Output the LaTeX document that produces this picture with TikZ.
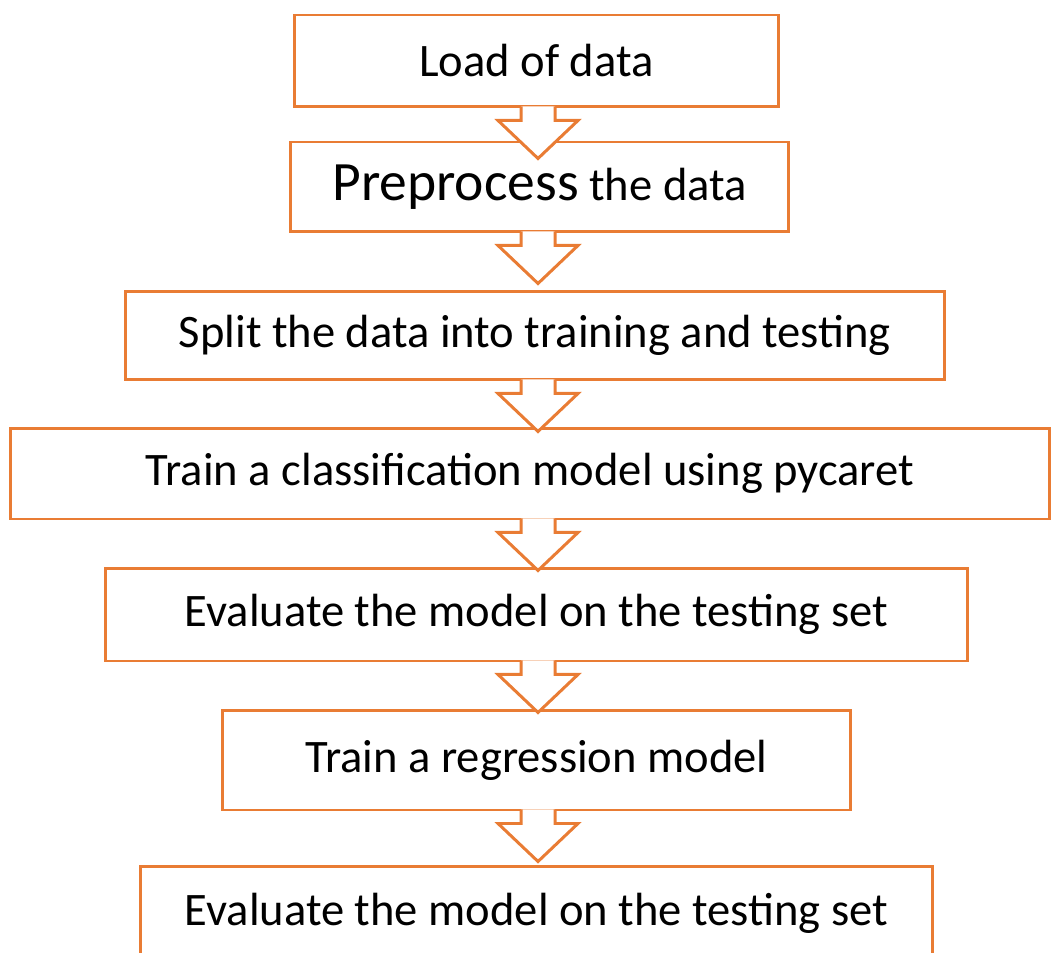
\documentclass[tikz,border=0pt]{standalone}
\usepackage{fontspec}
\setmainfont{Carlito}
\definecolor{steporange}{RGB}{233,124,52}

% outlined block arrow hanging below a box
\newcommand{\blockarrow}[1]{%
  \draw[flowarrow] (axis |- #1.south) ++(-17,-2) -- ++(0,14) -- ++(-23,0)
    -- ++(40,38) -- ++(40,-38) -- ++(-23,0) -- ++(0,-14);
}

\begin{document}
\begin{tikzpicture}[x=0.02cm, y=-0.02cm,
    stepbox/.style={draw=steporange, line width=1.7pt, inner sep=0pt,
      font=\fontsize{26.5}{30}\selectfont},
    flowarrow/.style={draw=steporange, line width=1.7pt, fill=white, line join=miter}]
  \useasboundingbox (0,0) rectangle (1053,952);
  \coordinate (axis) at (538,0);

  \node[stepbox, minimum width=9.70cm, minimum height=1.84cm] (load) at (536.5,61) {Load of data};
  \node[stepbox, minimum width=9.98cm, minimum height=1.80cm] (prep) at (539.5,187)
    {{\fontsize{31.6}{36}\selectfont Preprocess} the data};
  \node[stepbox, minimum width=16.40cm, minimum height=1.78cm] (split) at (535,335.5)
    {Split the data into training and testing};
  \node[stepbox, minimum width=20.80cm, minimum height=1.82cm] (classif) at (530,473.5)
    {Train a classification model using pycaret};
  \node[stepbox, minimum width=17.26cm, minimum height=1.86cm] (evalA) at (536.5,614.5)
    {Evaluate the model on the testing set};
  \node[stepbox, minimum width=12.58cm, minimum height=2.00cm] (regr) at (536.5,760)
    {Train a regression model};
  \node[stepbox, minimum width=15.86cm, minimum height=1.90cm] (evalB) at (536.5,913.5)
    {Evaluate the model on the testing set};

  \blockarrow{load}
  \blockarrow{prep}
  \blockarrow{split}
  \blockarrow{classif}
  \blockarrow{evalA}
  \blockarrow{regr}
\end{tikzpicture}
\end{document}
